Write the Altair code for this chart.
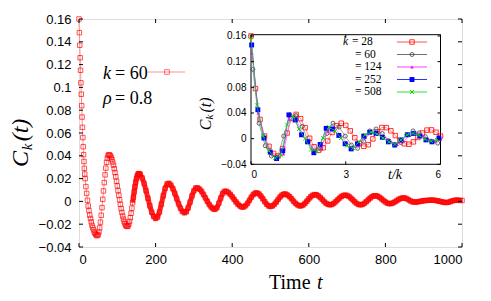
import altair as alt
import pandas as pd

# ---------------- main series: k = 60, rho = 0.8 ----------------
T_SEG1 = list(range(0, 16))
C_SEG1 = [0.160, 0.148, 0.137, 0.126, 0.115, 0.104, 0.094, 0.084, 0.074, 0.065,
          0.056, 0.048, 0.041, 0.035, 0.029, 0.024]
T_SEG2 = list(range(16, 160, 2))
C_SEG2 = [0.020, 0.013, 0.007, 0.001, -0.004, -0.008, -0.012, -0.015, -0.018, -0.021,
          -0.023, -0.025, -0.027, -0.028, -0.029, -0.0298, -0.030, -0.0292, -0.0269, -0.0232,
          -0.0182, -0.0122, -0.0055, 0.0018, 0.0092, 0.0165, 0.0233, 0.0292, 0.0343, 0.0379,
          0.0402, 0.041, 0.0407, 0.0399, 0.0386, 0.0368, 0.0345, 0.0318, 0.0287, 0.0253,
          0.0216, 0.0177, 0.0136, 0.0095, 0.0054, 0.0013, -0.0026, -0.0063, -0.0097, -0.0128,
          -0.0155, -0.0178, -0.0196, -0.0209, -0.0217, -0.022, -0.0215, -0.020, -0.0176, -0.0143,
          -0.0104, -0.006, -0.0012, 0.0036, 0.0084, 0.0128, 0.0167, 0.020, 0.0224, 0.0239,
          0.0244, 0.0242]
T_SEG3 = list(range(160, 1001, 5))
C_SEG3 = [0.0236, 0.0206, 0.0157, 0.0095, 0.0027, -0.0039, -0.0095, -0.0133, -0.015, -0.0138,
          -0.0093, -0.0025, 0.005, 0.0115, 0.0153, 0.0159, 0.0143, 0.0113, 0.0072, 0.0025,
          -0.0021, -0.006, -0.0088, -0.010, -0.0091, -0.0057, -0.0007, 0.0048, 0.0093, 0.0118,
          0.0118, 0.0107, 0.0088, 0.0061, 0.0031, 0.0001, -0.0028, -0.005, -0.0065, -0.007,
          -0.0056, -0.0018, 0.0029, 0.007, 0.0089, 0.0088, 0.0078, 0.0062, 0.0041, 0.0018,
          -0.0005, -0.0025, -0.004, -0.0049, -0.0049, -0.0038, -0.0017, 0.001, 0.0037, 0.006,
          0.0073, 0.0074, 0.0065, 0.0046, 0.0023, -0.0003, -0.0025, -0.004, -0.0045, -0.004,
          -0.0026, -0.0006, 0.0017, 0.0039, 0.0056, 0.0064, 0.0064, 0.0055, 0.0041, 0.0023,
          0.0002, -0.0016, -0.003, -0.0039, -0.0039, -0.0032, -0.0017, 0.0002, 0.0022, 0.0041,
          0.0054, 0.006, 0.0058, 0.0049, 0.0034, 0.0017, -0.0001, -0.0016, -0.0026, -0.003,
          -0.0027, -0.0018, -0.0004, 0.0013, 0.0029, 0.0043, 0.0052, 0.0055, 0.0052, 0.0043,
          0.0029, 0.0013, -0.0004, -0.0018, -0.0027, -0.003, -0.0027, -0.0017, -0.0003, 0.0013,
          0.0029, 0.0042, 0.0049, 0.005, 0.0045, 0.0035, 0.0022, 0.0008, -0.0005, -0.0015,
          -0.002, -0.0019, -0.0013, -0.0004, 0.0007, 0.0018, 0.0026, 0.003, 0.003, 0.0025,
          0.0015, 0.0005, -0.0003, -0.0006, -0.0006, -0.0004, 0.0, 0.0003, 0.0006, 0.0008,
          0.0009, 0.001, 0.0011, 0.0011, 0.0009, 0.0006, 0.0002, -0.0002, -0.0006, -0.0009,
          -0.001, -0.0007, -0.0001, 0.0005, 0.0009, 0.0011, 0.001, 0.0009, 0.0008]

X_TICKS = [0, 200, 400, 600, 800, 1000]
Y_TICKS = [-0.04, -0.02, 0, 0.02, 0.04, 0.06, 0.08, 0.1, 0.12, 0.14, 0.16]

# ---------------- inset series: C_k vs t/k ----------------
U28 = [0, 0.143, 0.286, 0.429, 0.571, 0.714, 0.857, 1.0, 1.143, 1.286, 1.429, 1.571,
       1.714, 1.857, 2.0, 2.143, 2.286, 2.429, 2.571, 2.714, 2.857, 3.0, 3.143, 3.286,
       3.429, 3.571, 3.714, 3.857, 4.0, 4.143, 4.286, 4.429, 4.571, 4.714, 4.857, 5.0,
       5.143, 5.286, 5.429, 5.571, 5.714, 5.857, 6.0]
C28 = [0.160, 0.078, 0.030, 0.004, -0.012, -0.023, -0.027, -0.0158, 0.0088, 0.0314, 0.0378,
       0.0311, 0.0171, 0.0006, -0.0127, -0.018, -0.0142, -0.0036, 0.0096, 0.0202, 0.024,
       0.0206, 0.0121, 0.0015, -0.0076, -0.0119, -0.0094, -0.0004, 0.0105, 0.0173, 0.0171,
       0.0122, 0.0047, -0.0029, -0.008, -0.0087, -0.005, 0.0018, 0.0088, 0.0133, 0.0136,
       0.010, 0.004]
U60 = [0.06, 0.255, 0.45, 0.645, 0.84, 1.035, 1.23, 1.425, 1.62, 1.815, 2.01, 2.205, 2.4,
       2.595, 2.79, 2.985, 3.18, 3.375, 3.57, 3.765, 3.96, 4.155, 4.35, 4.545, 4.74, 4.935,
       5.13, 5.325, 5.52, 5.715, 5.91]
C60 = [0.108, 0.024, -0.011, -0.027, -0.029, 0.004, 0.037, 0.036, 0.019, -0.004, -0.020,
       -0.016, 0.008, 0.024, 0.018, 0.004, -0.010, -0.015, -0.004, 0.012, 0.015, 0.008,
       -0.003, -0.009, -0.006, 0.006, 0.012, 0.009, 0.003, -0.004, -0.007]
U124 = [0.03, 0.23, 0.43, 0.63, 0.83, 1.03, 1.23, 1.43, 1.63, 1.83, 2.03, 2.23, 2.43, 2.63,
        2.83, 3.03, 3.23, 3.43, 3.63, 3.83, 4.03, 4.23, 4.43, 4.63, 4.83, 5.03, 5.23, 5.43,
        5.63, 5.83, 6.0]
C124 = [0.133, 0.040, 0.000, -0.020, -0.030, -0.024, 0.030, 0.030, 0.008, -0.004, -0.019,
        -0.013, 0.012, 0.018, 0.006, -0.006, -0.015, -0.010, 0.002, 0.009, 0.009, 0.003,
        -0.004, -0.009, -0.004, 0.005, 0.008, 0.005, -0.001, -0.004, -0.001]
U252 = [0.02, 0.217, 0.41, 0.61, 0.81, 1.005, 1.2, 1.40, 1.6, 1.79, 1.99, 2.19, 2.38, 2.58,
        2.78, 2.98, 3.17, 3.37, 3.57, 3.76, 3.96, 4.16, 4.35, 4.55, 4.75, 4.95, 5.14, 5.34,
        5.54, 5.73, 5.95]
C252 = [0.146, 0.045, 0.001, -0.021, -0.031, -0.019, 0.037, 0.029, 0.006, -0.005, -0.022,
        -0.009, 0.016, 0.015, 0.005, -0.008, -0.016, -0.008, 0.004, 0.010, 0.008, 0.002,
        -0.005, -0.010, -0.002, 0.006, 0.008, 0.004, -0.002, -0.005, 0.001]
U508 = [0.0, 0.19, 0.38, 0.57, 0.76, 0.95, 1.14, 1.33, 1.52, 1.71, 1.90, 2.09, 2.28, 2.47,
        2.66, 2.85, 3.04, 3.23, 3.42, 3.61, 3.80, 3.99, 4.18, 4.37, 4.56, 4.75, 4.94, 5.13,
        5.32, 5.51, 5.70, 5.89]
C508 = [0.158, 0.052, 0.004, -0.019, -0.030, -0.026, 0.022, 0.034, 0.015, 0.000, -0.017,
        -0.020, 0.001, 0.018, 0.012, 0.001, -0.011, -0.015, -0.005, 0.006, 0.010, 0.007,
        0.001, -0.005, -0.009, -0.002, 0.006, 0.008, 0.005, -0.001, -0.004, -0.002]

INSET_X_TICKS = [0, 3, 6]
INSET_Y_TICKS = [-0.04, 0, 0.04, 0.08, 0.12, 0.16]
LEGEND_LABELS = ["= 28", "= 60", "= 124", "= 252", "= 508"]

# ---------------- layout (pixels inside the plot area) ----------------
W, H = 383, 228
IX0, IX1 = 172, 361.5      # inset left/right
IY0, IY1 = 145.3, 15.7     # inset bottom/top

SERIF = "Liberation Serif"
SANS = "Liberation Sans"
one = pd.DataFrame({"a": [0]})


def txt(s, x, y, size, italic=False, angle=0, align="left", font=SERIF):
    return alt.Chart(one).mark_text(
        text=s, fontSize=size, font=font, fontStyle="italic" if italic else "normal",
        angle=angle, align=align, baseline="middle", color="black"
    ).encode(x=alt.value(x), y=alt.value(y))


# ---------------- main chart ----------------
main_df = pd.DataFrame({"t": T_SEG1 + T_SEG2 + T_SEG3, "c": C_SEG1 + C_SEG2 + C_SEG3})
xs = alt.Scale(domain=[0, 1000], nice=False)
ys = alt.Scale(domain=[-0.04, 0.16], nice=False, zero=False)
x_main = alt.X("t:Q", scale=xs, axis=alt.Axis(values=X_TICKS, title=None, ticks=False, domain=False,
                                              grid=False, labelFont=SANS, labelFontSize=13,
                                              labelColor="black", labelPadding=6, format="d"))
y_main = alt.Y("c:Q", scale=ys, axis=alt.Axis(values=Y_TICKS, title=None, ticks=False, domain=False,
                                              grid=False, labelFont=SANS, labelFontSize=13,
                                              labelColor="black", labelPadding=8, format="~g"))

main_line = alt.Chart(main_df).mark_line(color="#ff9090", strokeWidth=1).encode(x=x_main, y=y_main)
# dense band look of the overlapping markers once the oscillation slows down
main_band = alt.Chart(main_df).transform_filter("datum.t >= 140").mark_line(
    color="#ff1010", strokeWidth=5, opacity=0.9, strokeJoin="round").encode(x=x_main, y=y_main)
main_pts = alt.Chart(main_df).mark_point(shape="square", filled=False, size=20, color="#ff0000",
                                         strokeWidth=0.8, opacity=0.85).encode(x=x_main, y=y_main)

xt_df = pd.DataFrame({"t": X_TICKS})
yt_df = pd.DataFrame({"c": Y_TICKS})
tick_b = alt.Chart(xt_df).mark_rule(color="black").encode(x=x_main, y=alt.value(H), y2=alt.value(H - 4))
tick_t = alt.Chart(xt_df).mark_rule(color="black").encode(x=x_main, y=alt.value(0), y2=alt.value(4))
tick_l = alt.Chart(yt_df).mark_rule(color="black").encode(y=y_main, x=alt.value(0), x2=alt.value(4))
tick_r = alt.Chart(yt_df).mark_rule(color="black").encode(y=y_main, x=alt.value(W), x2=alt.value(W - 4))

main_legend = [
    txt("k", 24, 55, 18, italic=True),
    txt("= 60", 36, 55, 18),
    alt.Chart(one).mark_rule(color="#ff9090", strokeWidth=1.2).encode(
        x=alt.value(69), x2=alt.value(106), y=alt.value(53)),
    alt.Chart(one).mark_point(shape="square", filled=False, size=22, color="#ff0000",
                              strokeWidth=0.8).encode(x=alt.value(88), y=alt.value(53)),
    txt("ρ", 24, 80, 18, italic=True),
    txt("= 0.8", 36, 80, 18),
]
main_titles = [
    txt("Time", 190, 264, 20),
    txt("t", 238, 264, 20, italic=True),
    txt("C", -58, 140, 24, italic=True, angle=270, align="center"),
    txt("k", -52, 128, 15, italic=True, angle=270, align="center"),
    txt("(t)", -58, 111, 24, italic=True, angle=270, align="center"),
]

main_group = alt.layer(main_line, main_band, main_pts, tick_b, tick_t, tick_l, tick_r,
                       *main_legend, *main_titles)

# ---------------- inset chart ----------------
ixs = alt.Scale(domain=[0, 6], range=[IX0, IX1], nice=False)
iys = alt.Scale(domain=[-0.04, 0.162], range=[IY0, IY1], nice=False, zero=False)
x_in = alt.X("u:Q", scale=ixs, axis=alt.Axis(orient="bottom", offset=-(H - IY0), values=INSET_X_TICKS,
                                             title=None, ticks=False, domain=False, grid=False,
                                             labelFont=SANS, labelFontSize=10, labelColor="black",
                                             labelPadding=5, format="d", zindex=1))
y_in = alt.Y("c:Q", scale=iys, axis=alt.Axis(orient="left", offset=-IX0, values=INSET_Y_TICKS,
                                             title=None, ticks=False, domain=False, grid=False,
                                             labelFont=SANS, labelFontSize=10, labelColor="black",
                                             labelPadding=5, format="~g", zindex=1))

inset_bg = alt.Chart(one).mark_rect(fill="white", stroke="black", strokeWidth=1).encode(
    x=alt.value(IX0), x2=alt.value(IX1), y=alt.value(IY1), y2=alt.value(IY0))

XSHAPE = "M-1,-1L1,1M-1,1L1,-1"
SERIES = [
    (U28, C28, dict(shape="square", filled=False, size=20, color="#ff0000", strokeWidth=0.8), "#ff5050"),
    (U60, C60, dict(shape="circle", filled=False, size=16, color="#404040", strokeWidth=0.8), "#707070"),
    (U124, C124, dict(shape="triangle-up", filled=True, size=12, color="#ff00ff"), "#ff40ff"),
    (U252, C252, dict(shape="square", filled=True, size=24, color="#0000ff"), "#3030ff"),
    (U508, C508, dict(shape=XSHAPE, filled=False, size=14, color="#00dd00", strokeWidth=1), "#30e030"),
]

inset_layers = [inset_bg]
for u, c, mk, lc in SERIES:
    df = pd.DataFrame({"u": u, "c": c})
    inset_layers.append(alt.Chart(df).mark_line(color=lc, strokeWidth=0.8, opacity=0.8)
                        .encode(x=x_in, y=y_in))
    inset_layers.append(alt.Chart(df).mark_point(opacity=1, **mk).encode(x=x_in, y=y_in))

ixt = pd.DataFrame({"u": INSET_X_TICKS})
iyt = pd.DataFrame({"c": INSET_Y_TICKS})
inset_layers += [
    alt.Chart(ixt).mark_rule(color="black").encode(x=x_in, y=alt.value(IY0), y2=alt.value(IY0 - 3)),
    alt.Chart(ixt).mark_rule(color="black").encode(x=x_in, y=alt.value(IY1), y2=alt.value(IY1 + 3)),
    alt.Chart(iyt).mark_rule(color="black").encode(y=y_in, x=alt.value(IX0), x2=alt.value(IX0 + 3)),
    alt.Chart(iyt).mark_rule(color="black").encode(y=y_in, x=alt.value(IX1), x2=alt.value(IX1 - 3)),
]

# inset legend
ROWS = [23, 35.5, 48, 60.5, 73]
inset_layers.append(txt("k", 264, ROWS[0], 11.5, italic=True))
for i, (lab, (u, c, mk, lc)) in enumerate(zip(LEGEND_LABELS, SERIES)):
    inset_layers.append(txt(lab, 273 if i == 0 else 276, ROWS[i], 11.5))
    inset_layers.append(alt.Chart(one).mark_rule(color=lc, strokeWidth=1).encode(
        x=alt.value(318), x2=alt.value(348), y=alt.value(ROWS[i])))
    inset_layers.append(alt.Chart(one).mark_point(opacity=1, **mk).encode(
        x=alt.value(333), y=alt.value(ROWS[i])))

# inset labels
inset_layers += [
    txt("t/k", 316, 156, 14, italic=True, align="center"),
    txt("C", 127, 106, 16, italic=True, angle=270, align="center"),
    txt("k", 130.5, 98, 11, italic=True, angle=270, align="center"),
    txt("(t)", 127, 86, 16, italic=True, angle=270, align="center"),
]

inset_group = alt.layer(*inset_layers)

chart = alt.layer(main_group, inset_group).resolve_scale(
    x="independent", y="independent"
).properties(
    width=W, height=H, autosize=alt.AutoSizeParams(type="none"),
    padding={"left": 71, "top": 11, "right": 21, "bottom": 46}
).configure_view(stroke="black", strokeWidth=1).configure(background="white")

chart.save("out.html", embed_options={"renderer": "svg", "actions": False})
